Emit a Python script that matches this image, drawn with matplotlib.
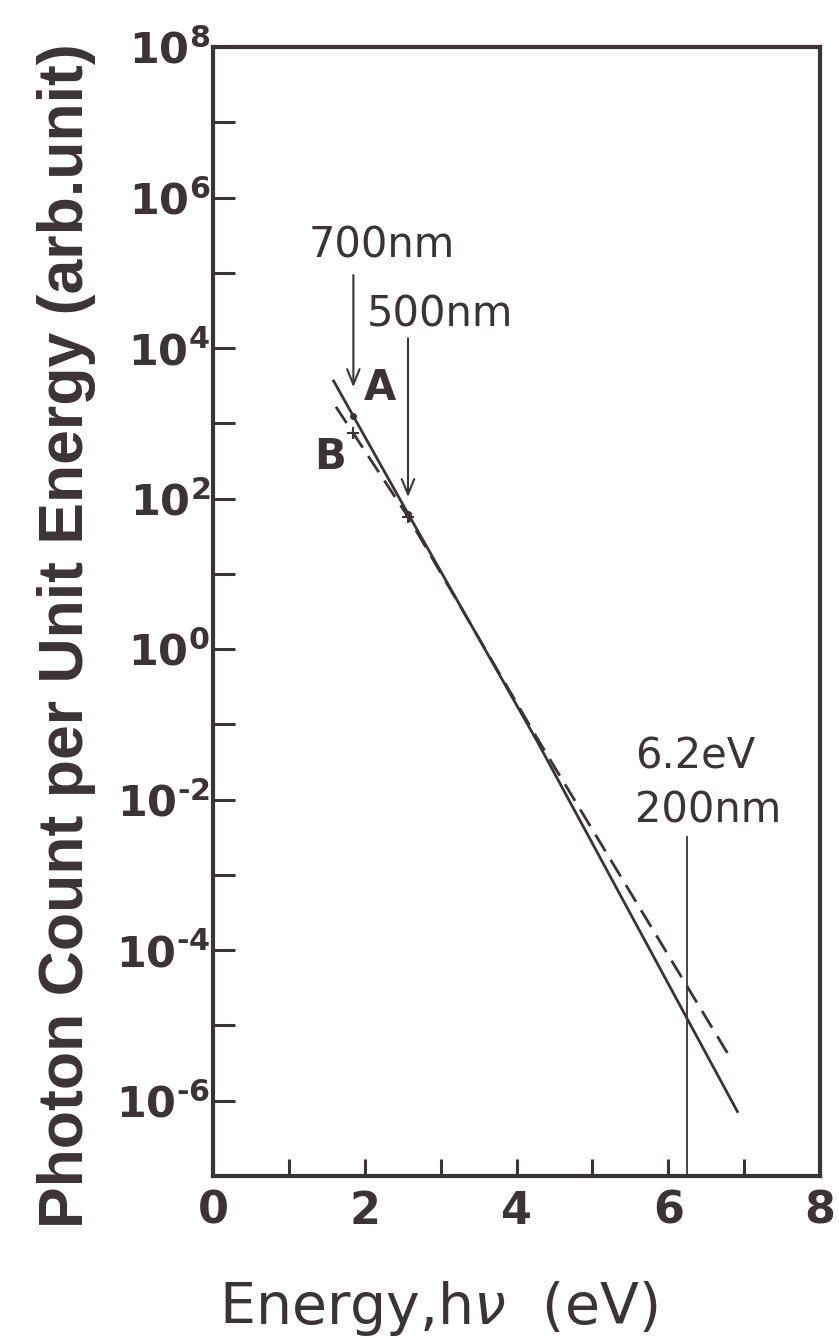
import math
import numpy as np
import matplotlib
matplotlib.use('Agg')
import matplotlib.pyplot as plt
from matplotlib.ticker import FixedLocator, FuncFormatter

# spectra: photon energy (eV) and log10 of photon count
energy_a = [1.58, 2.57, 4.27, 6.92]
log_count_a = [3.58, 1.80, -1.22, -6.16]
energy_b = [1.62, 2.57, 4.27, 6.80]
log_count_b = [3.22, 1.76, -1.18, -5.40]

x_major = [0, 2, 4, 6, 8]
x_minor = [1, 3, 5, 7]
y_major = [8, 6, 4, 2, 0, -2, -4, -6]
y_minor = [7, 5, 3, 1, -1, -3, -5]

# wavelength arrows: energy, log10 at arrow tail, log10 at arrow tip
arrow_700 = (1.85, 4.97, 3.48)
arrow_500 = (2.57, 4.13, 2.02)
uv_line_energy = 6.25
uv_line_top = -2.49

ink = '#3b3335'

plt.rcParams['mathtext.fontset'] = 'dejavusans'
plt.rcParams['font.family'] = ['DejaVu Sans']


def decade_label(v, pos):
    k = int(round(math.log10(v)))
    if k < 0:
        return r'$\mathbf{10^{' + '\u2010' + str(-k) + '}}$'
    return r'$\mathbf{10^{%d}}$' % k


fig = plt.figure(figsize=(8.39, 13.38), dpi=100)
ax = fig.add_axes([213 / 839, 162 / 1338, 607 / 839, 1129 / 1338])

ax.plot(energy_a, [10 ** v for v in log_count_a], color=ink, lw=2.0,
        solid_capstyle='butt')
ax.plot(energy_b, [10 ** v for v in log_count_b], color=ink, lw=2.0,
        dashes=(7, 3.6))

# small marks where the curves meet the wavelength arrows
for x in (arrow_700[0], arrow_500[0]):
    ax.plot(x, 10 ** np.interp(x, energy_a, log_count_a), 'o', color=ink, ms=4)
    ax.plot(x, 10 ** np.interp(x, energy_b, log_count_b), '+', color=ink,
            ms=9, mew=1.5)

ax.set_yscale('log')
ax.set_xlim(0, 8)
ax.set_ylim(1e-7, 1e8)

ax.xaxis.set_major_locator(FixedLocator(x_major))
ax.xaxis.set_minor_locator(FixedLocator(x_minor))
ax.yaxis.set_major_locator(FixedLocator([10.0 ** k for k in y_major]))
ax.yaxis.set_minor_locator(FixedLocator([10.0 ** k for k in y_minor]))
ax.xaxis.set_major_formatter(FuncFormatter(lambda v, p: '%d' % v))
ax.yaxis.set_major_formatter(FuncFormatter(decade_label))
ax.yaxis.set_minor_formatter(FuncFormatter(lambda v, p: ''))

for sp in ax.spines.values():
    sp.set_linewidth(3.0)
    sp.set_color(ink)

ax.tick_params(which='both', direction='in', length=16, width=2.2,
               color=ink, top=False, right=False)
ax.tick_params(axis='x', which='both', length=12)
ax.tick_params(axis='x', labelsize=32, pad=10, labelcolor=ink)
ax.tick_params(axis='y', labelsize=31, pad=2, labelcolor=ink)
for lab in ax.get_xticklabels():
    lab.set_fontweight('bold')

# wavelength arrows
for x, y0, y1 in (arrow_700, arrow_500):
    ax.annotate('', xy=(x, 10 ** y1), xytext=(x, 10 ** y0),
                arrowprops=dict(arrowstyle='->,head_length=1.1,head_width=0.45',
                                color=ink, lw=1.5, shrinkA=0, shrinkB=0))

ax.text(2.23, 10 ** 5.36, '700nm', fontsize=30, color=ink, ha='center', va='center')
ax.text(2.99, 10 ** 4.44, '500nm', fontsize=30, color=ink, ha='center', va='center')
ax.text(2.20, 10 ** 3.47, 'A', fontsize=30, color=ink, ha='center', va='center',
        fontweight='bold')
ax.text(1.54, 10 ** 2.55, 'B', fontsize=30, color=ink, ha='center', va='center',
        fontweight='bold')

ax.plot([uv_line_energy, uv_line_energy], [10 ** uv_line_top, 1e-7], color=ink, lw=1.3)
ax.text(5.56, 10 ** -1.43, '6.2eV', fontsize=30, color=ink, ha='left', va='center')
ax.text(5.56, 10 ** -2.15, '200nm', fontsize=30, color=ink, ha='left', va='center')

fig.text(67 / 839, 1 - 636 / 1338, 'Photon Count per Unit Energy (arb.unit)',
         rotation=90, ha='center', va='center', fontsize=45, fontweight='bold',
         color=ink, family=['Liberation Sans', 'DejaVu Sans'])
fig.text(438 / 839, 1 - 1324 / 1338, r'Energy,h$\nu$  (eV)', ha='center',
         va='baseline', fontsize=41, color=ink)

fig.savefig('out.png', dpi=100, facecolor='white')
